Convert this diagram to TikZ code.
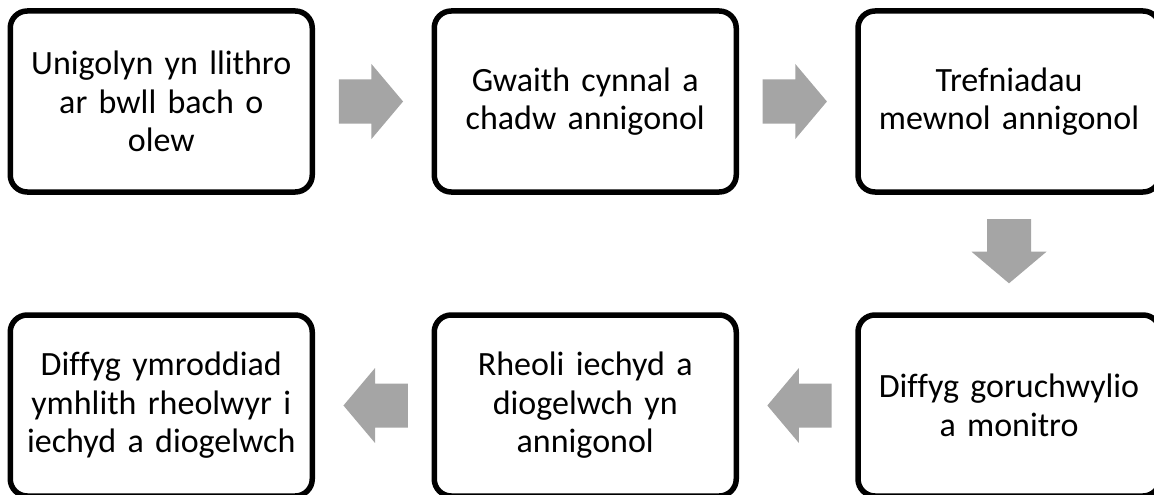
\documentclass[tikz,border=0pt]{standalone}
\usepackage{fontspec}
\setmainfont{Carlito}[Ligatures=CommonOff,WordSpace=0.75]
\usetikzlibrary{calc}
\definecolor{arrowgray}{RGB}{165,165,165}
\begin{document}
\begin{tikzpicture}[x=1pt,y=-1pt,
  stepbox/.style={draw=black, line width=5.5pt, rounded corners=17pt,
    minimum width=302pt, minimum height=181pt, inner sep=0pt,
    text width=295pt, align=center, font=\fontsize{34}{38.5}\selectfont},
  pics/blockarrow/.style={code={
    \fill[arrowgray] (-34.5,-22) -- (-1.8,-22) -- (-1.8,-37.5) -- (29.8,0)
      -- (-1.8,37.5) -- (-1.8,22) -- (-34.5,22) -- cycle;}}
]
\useasboundingbox (0,0) rectangle (1154,495);
\node[stepbox] (b1) at (161.25,101.5) {Unigolyn yn llithro\\ar bwll bach o\\olew};
\node[stepbox] (b2) at (585.25,101.5) {Gwaith cynnal a\\chadw annigonol};
\node[stepbox] (b3) at (1009,101.5) {Trefniadau\\mewnol annigonol};
\node[stepbox] (b4) at (1009,405.5) {Diffyg goruchwylio\\a monitro};
\node[stepbox] (b5) at (585.25,405.5) {Rheoli iechyd a\\diogelwch yn\\annigonol};
\node[stepbox] (b6) at (161.25,405.5) {Diffyg ymroddiad\\ymhlith rheolwyr i\\iechyd a diogelwch};
\pic at ($(b1.east)!0.5!(b2.west)$) {blockarrow};
\pic at ($(b2.east)!0.5!(b3.west)$) {blockarrow};
\pic[rotate=-90] at ($(b3.south)!0.5!(b4.north)$) {blockarrow};
\pic[rotate=180] at ($(b4.west)!0.5!(b5.east)$) {blockarrow};
\pic[rotate=180] at ($(b5.west)!0.5!(b6.east)$) {blockarrow};
\end{tikzpicture}
\end{document}
